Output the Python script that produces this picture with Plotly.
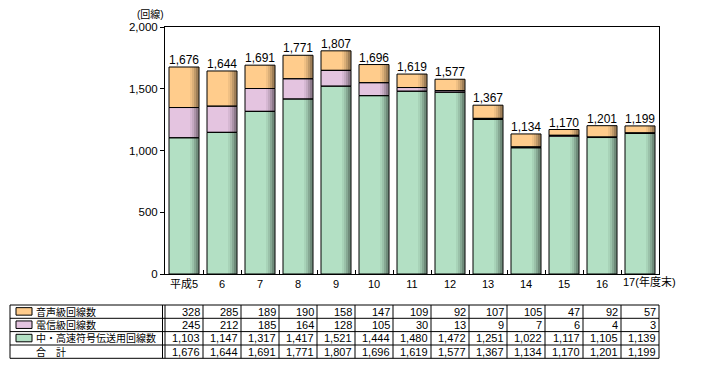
import plotly.graph_objects as go

categories = ["平成5", "6", "7", "8", "9", "10", "11", "12", "13", "14", "15", "16", "17"]
voice = [328, 285, 189, 190, 158, 147, 109, 92, 107, 105, 47, 92, 57]
telegraph = [245, 212, 185, 164, 128, 105, 30, 13, 9, 7, 6, 4, 3]
highspeed = [1103, 1147, 1317, 1417, 1521, 1444, 1480, 1472, 1251, 1022, 1117, 1105, 1139]
totals = [1676, 1644, 1691, 1771, 1807, 1696, 1619, 1577, 1367, 1134, 1170, 1201, 1199]

series_names = ["中・高速符号伝送用回線数", "電信級回線数", "音声級回線数"]
series_values = [highspeed, telegraph, voice]
series_colors = [(179, 224, 196), (228, 196, 224), (255, 204, 140)]
total_label = "合　計"
unit_label = "(回線)"
last_suffix = "(年度末)"

# page body has an 8px margin; work in page pixels and convert
OX, OY = 8, 8
W, H = 701 - OX, 369 - OY
PL, PR, PT, PB = 165, 659, 27, 274  # plot area in page pixels
L, R, T, B = PL - OX, W - (PR - OX), PT - OY, H - (PB - OY)
PW = PR - PL
PH = PB - PT
N = len(categories)
FONT = "Noto Sans CJK JP, Noto Sans, sans-serif"
NUMFONT = "Liberation Sans, Arial, sans-serif"
MIXFONT = "Liberation Sans, Noto Sans CJK JP, sans-serif"

BW = 30 / 38.0  # bar width in category units
OFF = -BW / 2


def rgb(c, f=1.0):
    return "rgb(%d,%d,%d)" % tuple(int(round(v * f)) for v in c)


fig = go.Figure()
bases = []
cum = [0] * N
for vals in series_values:
    bases.append(list(cum))
    cum = [a + b for a, b in zip(cum, vals)]

# main fills
for name, vals, base, col in zip(series_names, series_values, bases, series_colors):
    fig.add_trace(go.Bar(x=categories, y=vals, base=base, width=BW, offset=OFF,
                         marker=dict(color=rgb(col), line=dict(width=0)),
                         name=name, showlegend=False, hoverinfo="skip"))
# shading strips (right side gradient), px offsets from bar centre
strips = [(6, 8, 0.94), (8, 10, 0.86), (10, 12, 0.75), (12, 14, 0.62), (14, 15, 0.68)]
for vals, base, col in zip(series_values, bases, series_colors):
    for a, b, f in strips:
        fig.add_trace(go.Bar(x=categories, y=vals, base=base, width=(b - a) / 38.0,
                             offset=a / 38.0,
                             marker=dict(color=rgb(col, f), line=dict(width=0)),
                             showlegend=False, hoverinfo="skip"))
# outlines
for vals, base in zip(series_values, bases):
    fig.add_trace(go.Bar(x=categories, y=vals, base=base, width=BW, offset=OFF,
                         marker=dict(color="rgba(0,0,0,0)", line=dict(width=1, color="black")),
                         showlegend=False, hoverinfo="skip"))

# total labels
fig.add_trace(go.Scatter(x=categories, y=totals, mode="text",
                         text=[f"{v:,}" for v in totals], textposition="top center",
                         textfont=dict(size=12, color="black", family=NUMFONT),
                         showlegend=False, hoverinfo="skip", cliponaxis=False))

ticktext = list(categories[:-1]) + [""]
fig.update_layout(
    width=W, height=H, margin=dict(l=L, r=R, t=T, b=B, autoexpand=False),
    paper_bgcolor="white", plot_bgcolor="white",
    barmode="overlay", font=dict(family=FONT, size=11, color="black"),
    xaxis=dict(type="category", range=[-0.5, N - 0.5], tickson="boundaries",
               ticks="inside", ticklen=4, tickcolor="black", tickangle=0,
               tickvals=categories, ticktext=ticktext, automargin=False,
               showline=True, linecolor="black", linewidth=1, mirror=True,
               showgrid=False, tickfont=dict(size=11, family=MIXFONT)),
    yaxis=dict(range=[0, 2000], tickvals=[0, 500, 1000, 1500, 2000], tickformat=",",
               ticks="outside", ticklen=4, tickcolor="black", automargin=False,
               showline=True, linecolor="black", linewidth=1, mirror=True,
               showgrid=False, zeroline=False, tickfont=dict(size=11.5, family=NUMFONT)),
)


def px_x(p):
    return (p - PL) / PW


def px_y(p):
    return (PB - p) / PH


ann = []
shapes = []
ann.append(dict(x=px_x(150), y=px_y(14.5), xref="paper", yref="paper", text=unit_label,
                showarrow=False, xanchor="center", yanchor="middle",
                font=dict(size=10, family=MIXFONT)))
ann.append(dict(x=px_x(621), y=px_y(281), xref="paper", yref="paper",
                text=categories[-1] + last_suffix, showarrow=False, xanchor="left",
                yanchor="middle", font=dict(size=11, family=MIXFONT)))

# table
rows_y = [305, 318.3, 331.6, 345, 358.3]
x_left = px_x(10)
x_right = 1.0
for yy in rows_y:
    shapes.append(dict(type="line", xref="paper", yref="paper", x0=x_left, x1=x_right,
                       y0=px_y(yy), y1=px_y(yy), line=dict(color="black", width=1)))
for xx in [x_left, px_x(162.5), 0.0, 1.0]:
    shapes.append(dict(type="line", xref="paper", yref="paper", x0=xx, x1=xx,
                       y0=px_y(rows_y[0]), y1=px_y(rows_y[-1]), line=dict(color="black", width=1)))
for k in range(1, N):
    shapes.append(dict(type="line", xref="paper", yref="paper", x0=k / N, x1=k / N,
                       y0=px_y(rows_y[0]), y1=px_y(rows_y[-1]), line=dict(color="black", width=1)))

table_rows = [(series_names[2], voice, series_colors[2]),
              (series_names[1], telegraph, series_colors[1]),
              (series_names[0], highspeed, series_colors[0]),
              (total_label, totals, None)]
for r, (label, vals, col) in enumerate(table_rows):
    yc = (rows_y[r] + rows_y[r + 1]) / 2
    if col is not None:
        shapes.append(dict(type="rect", xref="paper", yref="paper",
                           x0=px_x(16), x1=px_x(32), y0=px_y(yc - 4), y1=px_y(yc + 3.5),
                           fillcolor=rgb(col), line=dict(color="black", width=1)))
    ann.append(dict(x=px_x(34), y=px_y(yc), xref="paper", yref="paper", text=label,
                    showarrow=False, xanchor="left", yanchor="middle",
                    font=dict(size=10, family=MIXFONT)))
    for i, v in enumerate(vals):
        ann.append(dict(x=(i + 1) / N, y=px_y(yc), xref="paper", yref="paper",
                        text=f"{v:,}", showarrow=False, xanchor="right", yanchor="middle",
                        xshift=-1, font=dict(size=11, family=NUMFONT)))

fig.update_layout(annotations=ann, shapes=shapes)
fig.write_html("out.html")
